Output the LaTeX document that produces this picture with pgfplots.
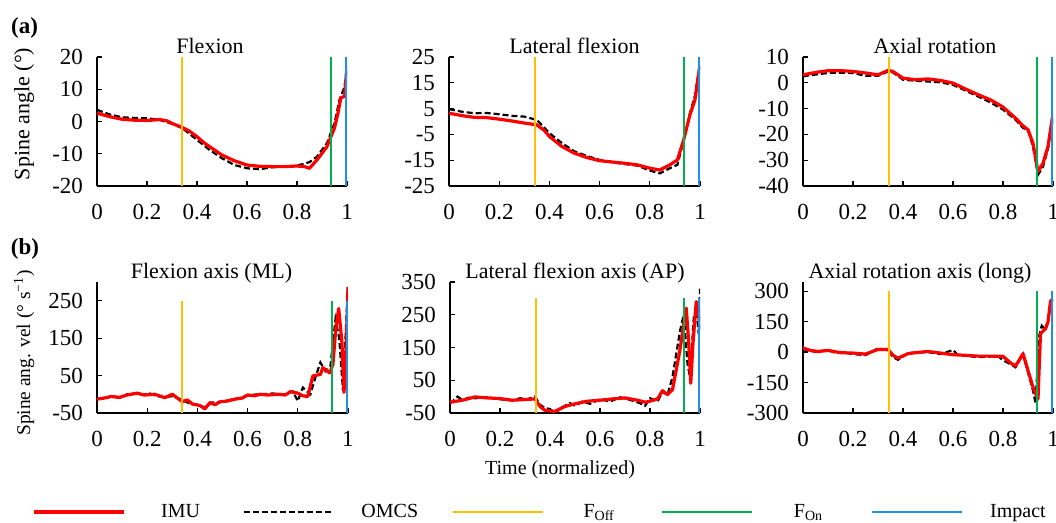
\documentclass[border=0pt]{standalone}
\usepackage{fontspec}
\setmainfont{Liberation Serif}
\usepackage{pgfplots}
\pgfplotsset{compat=1.18}

\definecolor{imured}{HTML}{FF0000}
\definecolor{foff}{HTML}{FFC000}
\definecolor{fon}{HTML}{00B050}
\definecolor{impact}{HTML}{1E90E6}

\newcommand\elf{\fontsize{11}{13}\selectfont}

\pgfplotsset{
  panel/.style={
    scale only axis, width=125pt, height=64.5pt, anchor=south west,
    axis lines*=left, axis line style={line width=0.7pt},
    tick align=inside, major tick length=2.5pt,
    tick style={black, line width=0.6pt},
    xmin=0, xmax=1, xtick={0,0.2,0.4,0.6,0.8,1},
    /pgf/number format/assume math mode=true,
    ticklabel style={font=\fontsize{11.5}{13}\selectfont},
    xticklabel style={yshift=-5.5pt},
    yticklabel style={xshift=-3.5pt},
    title style={font=\elf, at={(0.5,1)}, anchor=base, yshift=-4.5pt},
  },
  imuline/.style={imured, line width=1.6pt, line join=round},
  omcsline/.style={black, line width=1.1pt, dash pattern=on 3pt off 1.5pt},
  ev/.style={line width=1pt},
}

\begin{document}
\begin{tikzpicture}
\useasboundingbox (0,0) rectangle (528pt,261.5pt);

% ---------- row (a) ----------
\begin{axis}[panel, at={(48.5pt,168.5pt)}, ymin=-20, ymax=20, ytick={-20,-10,0,10,20},
  title={Flexion}, title style={xshift=-6pt}]
\addplot[omcsline] coordinates {(0,3.6)(0.05,2.2)(0.1,1.3)(0.15,1.1)(0.2,1)(0.25,0.5)(0.3,-0.7)(0.34,-2)(0.37,-3.8)(0.4,-5.7)(0.45,-8.8)(0.5,-11.4)(0.55,-13.5)(0.6,-14.5)(0.65,-14.8)(0.7,-14.2)(0.75,-14)(0.8,-13.7)(0.85,-12.6)(0.88,-10.9)(0.92,-6.7)(0.95,-0.5)(0.97,6.7)(0.99,10.7)(1,17)};
\addplot[imuline] coordinates {(0,2.6)(0.05,1.5)(0.1,0.7)(0.15,0.4)(0.2,0.3)(0.25,0.6)(0.28,0.2)(0.3,-0.6)(0.34,-1.8)(0.37,-3)(0.4,-4.7)(0.43,-6.7)(0.45,-7.8)(0.5,-10.4)(0.55,-12.2)(0.6,-13.5)(0.65,-13.9)(0.7,-14)(0.75,-14)(0.8,-13.8)(0.83,-14)(0.85,-14.5)(0.88,-11.9)(0.92,-7.8)(0.95,-2)(0.965,3)(0.975,7.3)(0.99,7.8)(1,17)};
\addplot[ev, foff] coordinates {(0.34,-20)(0.34,20)};
\addplot[ev, fon] coordinates {(0.935,-20)(0.935,20)};
\addplot[ev, impact] coordinates {(0.997,-20)(0.997,20)};
\end{axis}

\begin{axis}[panel, at={(224.5pt,168.5pt)}, width=125.5pt, ymin=-25, ymax=25, ytick={-25,-15,-5,5,15,25},
  title={Lateral flexion}]
\addplot[omcsline] coordinates {(0,4.8)(0.05,3.8)(0.1,3.2)(0.15,3.3)(0.2,2.8)(0.25,2.2)(0.3,1.9)(0.35,0.6)(0.4,-4.5)(0.45,-8.4)(0.5,-11.6)(0.55,-13.4)(0.6,-14.9)(0.65,-15.8)(0.7,-16.5)(0.75,-17.1)(0.8,-19)(0.84,-20.1)(0.88,-18.1)(0.91,-16.8)(0.935,-7.1)(0.96,3.2)(0.98,10)(1,22.7)};
\addplot[imuline] coordinates {(0,3.2)(0.05,2.3)(0.1,1.6)(0.15,1.5)(0.2,0.9)(0.25,0.2)(0.3,-0.6)(0.35,-1.3)(0.38,-3.5)(0.4,-5.8)(0.45,-9.7)(0.5,-12.3)(0.55,-14)(0.6,-15.2)(0.65,-15.7)(0.7,-16.2)(0.75,-16.8)(0.8,-18.1)(0.84,-18.8)(0.88,-16.8)(0.91,-14.9)(0.935,-7.1)(0.96,2.6)(0.98,8.4)(1,22)};
\addplot[ev, foff] coordinates {(0.343,-25)(0.343,25)};
\addplot[ev, fon] coordinates {(0.935,-25)(0.935,25)};
\addplot[ev, impact] coordinates {(0.997,-25)(0.997,25)};
\end{axis}

\begin{axis}[panel, at={(401.5pt,168.5pt)}, ymin=-40, ymax=10, ytick={-40,-30,-20,-10,0,10},
  title={Axial rotation}, title style={xshift=3.5pt}]
\addplot[omcsline] coordinates {(0,2.5)(0.05,3.2)(0.1,3.8)(0.15,3.9)(0.2,3.8)(0.25,2.7)(0.3,2.7)(0.34,4.4)(0.36,4)(0.4,1.2)(0.45,0.8)(0.5,0.5)(0.55,0.2)(0.6,-0.8)(0.65,-3)(0.7,-5.3)(0.75,-7.6)(0.8,-10.4)(0.85,-14.3)(0.88,-17.5)(0.9,-18.2)(0.92,-24.7)(0.94,-35.7)(0.96,-32.5)(0.98,-25.5)(1,-13)};
\addplot[imuline] coordinates {(0,3.1)(0.05,4)(0.1,4.7)(0.15,4.7)(0.2,4.4)(0.25,3.8)(0.3,3.1)(0.34,4.8)(0.36,4.4)(0.4,1.8)(0.45,1.2)(0.5,1.5)(0.55,0.9)(0.6,-0.1)(0.65,-2.4)(0.7,-4.6)(0.75,-6.6)(0.8,-9.4)(0.85,-13.7)(0.88,-16.7)(0.9,-18.2)(0.92,-23.4)(0.94,-34.4)(0.96,-31.2)(0.98,-24.7)(1,-11.8)};
\addplot[ev, foff] coordinates {(0.344,-40)(0.344,10)};
\addplot[ev, fon] coordinates {(0.936,-40)(0.936,10)};
\addplot[ev, impact] coordinates {(0.997,-40)(0.997,10)};
\end{axis}

% ---------- row (b) ----------
\begin{axis}[panel, at={(48.5pt,55pt)}, width=125.5pt, height=65.5pt, ymin=-50, ymax=300, ytick={-50,50,150,250},
  title={Flexion axis (ML)}, title style={xshift=-5.5pt},
  legend columns=5,
  legend style={draw=none, fill=none, font=\fontsize{10}{12}\selectfont,
    at={(-0.259,-0.756)}, anchor=west, inner sep=0pt,
    nodes={inner sep=0pt, text width=55pt, align=center},
    /tikz/every even column/.append style={column sep=3.5pt}},
  legend image code/.code={\draw[#1] (0pt,0pt) -- (45pt,0pt);}]
\addlegendimage{imuline, line width=1.6pt}
\addlegendimage{omcsline}
\addlegendimage{ev, foff, line width=1.2pt}
\addlegendimage{ev, fon, line width=1.2pt}
\addlegendimage{ev, impact, line width=1.2pt}
\addplot[omcsline] coordinates {(0,-12)(0.03,-10)(0.06,-6)(0.09,-10)(0.12,0)(0.15,2)(0.18,-2)(0.21,2)(0.24,-5)(0.27,-8)(0.3,-5)(0.34,-15)(0.37,-25)(0.4,-28)(0.43,-35)(0.46,-22)(0.5,-20)(0.53,-15)(0.57,-10)(0.6,-2)(0.65,0)(0.7,2)(0.75,0)(0.78,8)(0.8,-18)(0.82,18)(0.85,0)(0.87,45)(0.89,85)(0.91,62)(0.93,75)(0.95,200)(0.965,150)(0.98,10)(1,287)};
\addplot[imuline] coordinates {(0,-13)(0.03,-10)(0.056,-6)(0.09,-8)(0.12,-2)(0.16,3)(0.19,-2)(0.23,0)(0.27,-9)(0.3,0)(0.34,-20)(0.36,-15)(0.38,-26)(0.41,-30)(0.43,-39)(0.45,-22)(0.47,-28)(0.49,-20)(0.52,-18)(0.55,-13)(0.58,-10)(0.6,-2)(0.63,-4)(0.65,0)(0.68,-2)(0.72,0)(0.75,-2)(0.77,7)(0.8,3)(0.82,-4)(0.84,-6)(0.86,49)(0.89,53)(0.9,71)(0.927,57)(0.94,80)(0.952,180)(0.963,229)(0.976,137)(0.984,5)(0.99,66)(1,287)};
\addplot[ev, foff] coordinates {(0.34,-50)(0.34,250)};
\addplot[ev, fon] coordinates {(0.935,-50)(0.935,250)};
\addplot[ev, impact] coordinates {(0.997,-50)(0.997,250)};
\legend{IMU, OMCS, F\textsubscript{Off}, F\textsubscript{On}, Impact}
\end{axis}

\begin{axis}[panel, at={(225pt,55pt)}, height=65.5pt, ymin=-50, ymax=350, ytick={-50,50,150,250,350},
  title={Lateral flexion axis (AP)}]
\addplot[omcsline] coordinates {(0,-22)(0.03,0)(0.05,-10)(0.08,-2)(0.1,-5)(0.15,-2)(0.2,-8)(0.25,-12)(0.28,-5)(0.31,-8)(0.34,0)(0.36,-25)(0.38,-35)(0.4,-38)(0.42,-50)(0.45,-32)(0.48,-20)(0.5,-28)(0.53,-15)(0.56,-22)(0.6,-8)(0.64,-15)(0.68,-2)(0.72,-10)(0.76,-20)(0.78,-28)(0.8,-5)(0.83,-15)(0.85,15)(0.87,5)(0.89,60)(0.92,200)(0.935,250)(0.95,100)(0.96,60)(0.975,240)(0.985,270)(0.995,190)(1,330)};
\addplot[imuline] coordinates {(0,-17)(0.05,-11)(0.1,-1)(0.15,-4)(0.2,-6)(0.25,-11)(0.3,-9)(0.34,-7)(0.36,-30)(0.38,-42)(0.42,-45)(0.46,-30)(0.5,-22)(0.55,-14)(0.6,-11)(0.65,-7)(0.7,-4)(0.75,-11)(0.78,-17)(0.8,-14)(0.83,-7)(0.85,18)(0.87,6)(0.89,21)(0.92,143)(0.935,224)(0.945,270)(0.955,163)(0.963,41)(0.972,163)(0.985,290)(0.993,265)(1,204)};
\addplot[ev, foff] coordinates {(0.343,-50)(0.343,300)};
\addplot[ev, fon] coordinates {(0.935,-50)(0.935,300)};
\addplot[ev, impact] coordinates {(0.997,-50)(0.997,300)};
\end{axis}

\begin{axis}[panel, at={(401.5pt,55pt)}, height=65.5pt, ymin=-300, ymax=345, ytick={-300,-150,0,150,300},
  title={Axial rotation axis (long)}, title style={xshift=-4pt}]
\addplot[omcsline] coordinates {(0,15)(0.03,5)(0.06,0)(0.1,12)(0.13,-5)(0.15,0)(0.2,-10)(0.25,-15)(0.28,5)(0.3,18)(0.34,10)(0.36,-25)(0.38,-38)(0.42,-5)(0.45,-2)(0.5,0)(0.55,-10)(0.6,10)(0.62,-15)(0.65,-18)(0.7,-25)(0.75,-22)(0.78,-20)(0.8,-40)(0.83,-60)(0.85,-75)(0.88,-10)(0.92,-190)(0.93,-250)(0.945,80)(0.955,130)(0.97,110)(0.98,160)(0.99,230)(1,260)};
\addplot[imuline] coordinates {(0,20)(0.03,8)(0.06,3)(0.1,8)(0.15,-3)(0.2,-5)(0.25,-10)(0.3,13)(0.34,13)(0.36,-16)(0.38,-30)(0.42,-8)(0.45,-3)(0.5,3)(0.55,-5)(0.6,-13)(0.65,-16)(0.7,-20)(0.75,-20)(0.8,-21)(0.83,-53)(0.85,-69)(0.88,-8)(0.92,-173)(0.94,-231)(0.95,91)(0.97,115)(0.98,148)(0.99,250)(1,264)};
\addplot[ev, foff] coordinates {(0.344,-300)(0.344,300)};
\addplot[ev, fon] coordinates {(0.936,-300)(0.936,300)};
\addplot[ev, impact] coordinates {(0.997,-300)(0.997,300)};
\end{axis}

% ---------- labels ----------
\node[font=\fontsize{11.5}{13}\selectfont\bfseries] at (12.25pt,247.75pt) {(a)};
\node[font=\fontsize{11.5}{13}\selectfont\bfseries] at (12.5pt,137pt) {(b)};
\node[font=\elf, rotate=90] at (12pt,204.5pt) {Spine angle (°)};
\node[font=\fontsize{9.7}{11}\selectfont, rotate=90] at (12pt,85pt) {Spine ang. vel (° s\textsuperscript{−1})};
\node[font=\fontsize{10}{12}\selectfont] at (280pt,26.5pt) {Time (normalized)};
\end{tikzpicture}
\end{document}
